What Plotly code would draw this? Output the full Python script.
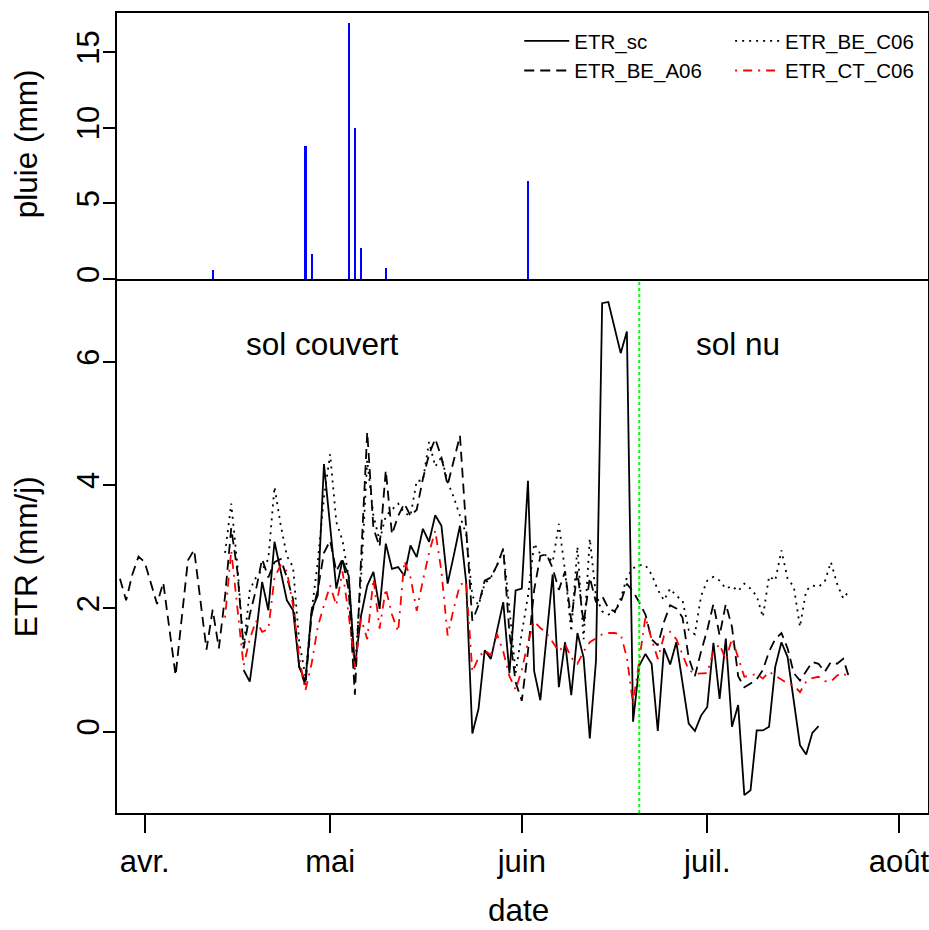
import pandas as pd
import plotly.graph_objects as go
from plotly.subplots import make_subplots

START = pd.Timestamp("2006-04-01")
FONT = "Liberation Sans, Arial, sans-serif"

# rain (mm), day offsets from 1 April
rain_days = [11, 26, 27, 33, 34, 35, 39, 62]
rain_mm = [0.6, 8.76, 1.65, 16.95, 9.95, 2.05, 0.75, 6.5]

# ETR_sc (solid)
sc_days = [16, 17, 18, 19, 20, 21, 23, 24, 25, 26, 27, 28, 29, 31, 32, 33, 34, 35, 36, 37,
           38, 39, 40, 41, 42, 43, 44, 45, 46, 47, 48, 49, 50, 51, 52, 53, 54, 55, 56, 58,
           59, 60, 61, 62, 63, 64, 66, 67, 68, 69, 70, 71, 72, 73, 74, 75, 77, 78, 79, 80,
           81, 82, 83, 84, 85, 86, 88, 89, 90, 91, 92, 93, 94, 95, 96, 97, 98, 99, 100, 101,
           102, 103, 104, 106, 107, 108, 109]
sc_vals = [1.0, 0.81, 1.56, 2.43, 1.97, 3.08, 2.13, 1.97, 1.05, 0.81, 1.97, 2.21, 4.34, 2.32, 2.78, 2.53, 1.05, 1.88, 2.37, 2.59,
           1.99, 3.05, 2.64, 2.67, 2.53, 3.02, 2.83, 3.29, 3.08, 3.51, 3.34, 2.40, 2.86, 3.34, 2.43, -0.03, 0.37, 1.32, 1.18, 2.10,
           0.95, 2.29, 2.32, 4.07, 0.98, 0.51, 2.55, 0.72, 1.45, 0.59, 1.60, 1.20, -0.11, 1.15, 6.95, 6.97, 6.14, 6.49, 0.16, 1.07,
           1.26, 1.10, 0.01, 1.35, 1.09, 1.45, 0.13, 0.01, 0.26, 0.40, 1.44, 0.53, 1.51, 0.08, 0.43, -1.03, -0.95, 0.02, 0.02, 0.08,
           1.05, 1.45, 1.21, -0.22, -0.37, -0.02, 0.09]

# ETR_BE_A06 (dashed), daily from day -4
a06_first = -4
a06_vals = [2.48, 2.13, 2.55, 2.84, 2.75, 2.40, 2.07, 2.42, 1.65, 0.91,
            1.85, 2.78, 2.95, 2.10, 1.33, 1.98, 1.35, 2.20, 3.30, 2.60,
            1.35, 1.90, 2.30, 2.80, 2.50, 2.75, 2.80, 2.50, 2.15, 1.05,
            0.75, 1.90, 2.30, 2.90, 3.10, 2.60, 2.80, 2.30, 0.60, 2.80,
            4.86, 3.30, 3.00, 4.24, 3.20, 3.50, 3.70, 3.50, 3.60, 4.10,
            4.50, 4.75, 4.45, 4.00, 4.40, 4.80, 3.30, 1.80, 2.05, 2.45,
            2.50, 2.70, 2.97, 1.60, 0.80, 0.50, 1.30, 2.30, 2.85, 2.88,
            2.65, 2.30, 2.60, 1.80, 2.60, 1.75, 2.50, 2.10, 2.20, 2.00,
            1.95, 2.10, 2.40, 2.27, 2.10, 1.90, 1.50, 1.40, 1.78, 2.05,
            2.00, 1.85, 1.20, 0.90, 1.30, 1.65, 2.07, 1.56, 2.07, 1.70,
            0.90, 0.72, 0.78, 0.85, 1.00, 1.30, 1.50, 1.60, 1.35, 0.95,
            0.83, 0.97, 1.13, 1.10, 0.97, 1.13, 1.10, 1.18, 0.86]

# ETR_BE_C06 (dotted), daily from day 13
c06_first = 13
c06_vals = [2.90, 3.70, 2.70, 1.35, 2.30, 2.50, 2.62, 2.80, 3.97, 3.35,
            2.85, 2.67, 1.45, 0.90, 1.95, 2.75, 3.80, 4.50, 3.40, 3.10,
            2.50, 1.00, 2.50, 4.40, 3.50, 3.10, 3.50, 3.60, 3.70, 3.55,
            3.50, 4.07, 4.07, 4.70, 4.30, 4.45, 4.05, 3.80, 3.50, 3.20,
            2.20, 2.05, 2.40, 2.50, 2.70, 2.95, 2.00, 0.95, 1.60, 2.20,
            3.05, 2.88, 2.86, 2.75, 3.37, 2.60, 1.62, 3.00, 1.50, 3.13,
            2.20, 1.95, 1.90, 1.92, 2.16, 2.50, 2.65, 2.70, 2.70, 2.55,
            2.30, 2.13, 2.32, 2.20, 2.13, 1.65, 1.58, 2.20, 2.45, 2.51,
            2.45, 2.32, 2.36, 2.28, 2.40, 2.32, 2.20, 1.86, 2.52, 2.45,
            2.94, 2.48, 2.35, 1.70, 2.29, 2.37, 2.35, 2.43, 2.75, 2.40,
            2.16, 2.29]

# ETR_CT_C06 (red dash-dot), daily from day 13
ct_first = 13
ct_vals = [1.85, 2.94, 2.00, 1.07, 1.50, 1.80, 1.62, 1.66, 2.50, 2.70,
           2.60, 2.05, 1.20, 0.67, 1.10, 1.70, 2.05, 2.37, 2.05, 2.60,
           1.90, 1.05, 1.83, 1.50, 2.48, 1.67, 2.32, 1.90, 1.62, 2.77,
           2.50, 1.96, 2.45, 2.90, 3.26, 2.60, 1.56, 2.00, 2.38, 2.43,
           0.97, 1.20, 1.32, 1.24, 1.58, 1.30, 0.90, 0.68, 1.00, 1.45,
           1.79, 1.68, 1.60, 1.45, 1.30, 1.42, 1.20, 1.10, 1.30, 1.45,
           1.52, 1.58, 1.60, 1.60, 1.58, 1.20, 0.45, 1.20, 1.86, 1.50,
           1.18, 1.55, 1.62, 1.50, 1.25, 1.00, 0.94, 0.94, 0.95, 1.30,
           1.42, 1.16, 1.51, 1.20, 0.89, 0.91, 0.94, 0.86, 0.97, 0.91,
           0.85, 0.78, 0.75, 0.64, 0.81, 0.87, 0.89, 0.82, 0.81, 0.91,
           0.95, 0.86]

month_ticks = ["2006-04-01", "2006-05-01", "2006-06-01", "2006-07-01", "2006-08-01"]
month_labels = ["avr.", "mai", "juin", "juil.", "août"]
switch_date = "2006-06-20"


def days_to_dates(days):
    return START + pd.to_timedelta(days, unit="D")


def daily_dates(first, vals):
    return days_to_dates(list(range(first, first + len(vals))))


fig = make_subplots(rows=2, cols=1, shared_xaxes=True, vertical_spacing=0,
                    row_heights=[0.335, 0.665])

fig.add_trace(go.Bar(x=days_to_dates(rain_days), y=rain_mm, width=0.35 * 86400000,
                     marker=dict(color="#0000ff", line=dict(width=0)), showlegend=False),
              row=1, col=1)

lw = 1.8
fig.add_trace(go.Scatter(x=daily_dates(a06_first, a06_vals), y=a06_vals, mode="lines",
                         name="ETR_BE_A06", legend="legend", legendrank=2,
                         line=dict(color="black", width=lw, dash="10px,6px")), row=2, col=1)
fig.add_trace(go.Scatter(x=daily_dates(c06_first, c06_vals), y=c06_vals, mode="lines",
                         name="ETR_BE_C06", legend="legend2", legendrank=1,
                         line=dict(color="black", width=lw, dash="2px,5px")), row=2, col=1)
fig.add_trace(go.Scatter(x=days_to_dates(sc_days), y=sc_vals, mode="lines",
                         name="ETR_sc", legend="legend", legendrank=1,
                         line=dict(color="black", width=lw)), row=2, col=1)
fig.add_trace(go.Scatter(x=daily_dates(ct_first, ct_vals), y=ct_vals, mode="lines",
                         name="ETR_CT_C06", legend="legend2", legendrank=2,
                         line=dict(color="#ff0000", width=lw, dash="2px,6px,9px,6px")), row=2, col=1)

fig.add_shape(type="line", xref="x2", yref="y2 domain", x0=switch_date, x1=switch_date,
              y0=0, y1=1, line=dict(color="#00ff00", width=2, dash="dot"))

axis_common = dict(showline=True, linecolor="black", linewidth=1.5, automargin=False,
                   showgrid=False, zeroline=False,
                   tickfont=dict(family=FONT, size=31, color="black"))
fig.update_xaxes(range=["2006-03-27 12:30", "2006-08-05 17:00"], **axis_common)
fig.update_xaxes(ticks="", showticklabels=False, side="top", mirror=False, row=1, col=1)
fig.update_xaxes(ticks="outside", ticklen=18, tickcolor="black", tickwidth=1.5, mirror=True,
                 tickvals=month_ticks, ticktext=month_labels, ticklabelstandoff=2,
                 ticklabeloverflow="allow", row=2, col=1)
fig.update_yaxes(ticks="outside", ticklen=12, tickcolor="black", tickwidth=1.5, mirror=True,
                 tickangle=-90, ticklabelstandoff=-8, **axis_common)
fig.update_yaxes(range=[-0.13, 17.58], tickvals=[0, 5, 10, 15], row=1, col=1)
fig.update_yaxes(range=[-1.32, 7.31], tickvals=[0, 2, 4, 6], row=2, col=1)

title_font = dict(family=FONT, size=31.5, color="black")
centered = dict(showarrow=False, xanchor="center", yanchor="middle", font=title_font)
fig.add_annotation(text="pluie (mm)", xref="paper", yref="paper", x=-0.112, y=0.836,
                   textangle=-90, **centered)
fig.add_annotation(text="ETR (mm/j)", xref="paper", yref="paper", x=-0.112, y=0.32,
                   textangle=-90, **centered)
fig.add_annotation(text="date", xref="paper", yref="paper", x=0.4945, y=-0.1215, **centered)
fig.add_annotation(text="sol couvert", xref="x2", yref="y2", x="2006-04-29 17:00", y=6.29,
                   **centered)
fig.add_annotation(text="sol nu", xref="x2", yref="y2", x="2006-07-06", y=6.29, **centered)

legend_common = dict(font=dict(family=FONT, size=20.5, color="black"), bgcolor="rgba(0,0,0,0)",
                     itemwidth=45, yanchor="top", xanchor="left", tracegroupgap=0)
fig.update_layout(
    width=929, height=930,
    margin=dict(l=117, r=1, t=13, b=117),
    paper_bgcolor="white", plot_bgcolor="white",
    bargap=0,
    legend=dict(x=0.496, y=0.99, **legend_common),
    legend2=dict(x=0.756, y=0.99, **legend_common),
)

# drop the default page margin so the figure sits at the window's top-left corner
fig.write_html("out.html", config={"displayModeBar": False},
               post_script="document.body.style.margin='0';document.body.style.overflow='hidden';")
